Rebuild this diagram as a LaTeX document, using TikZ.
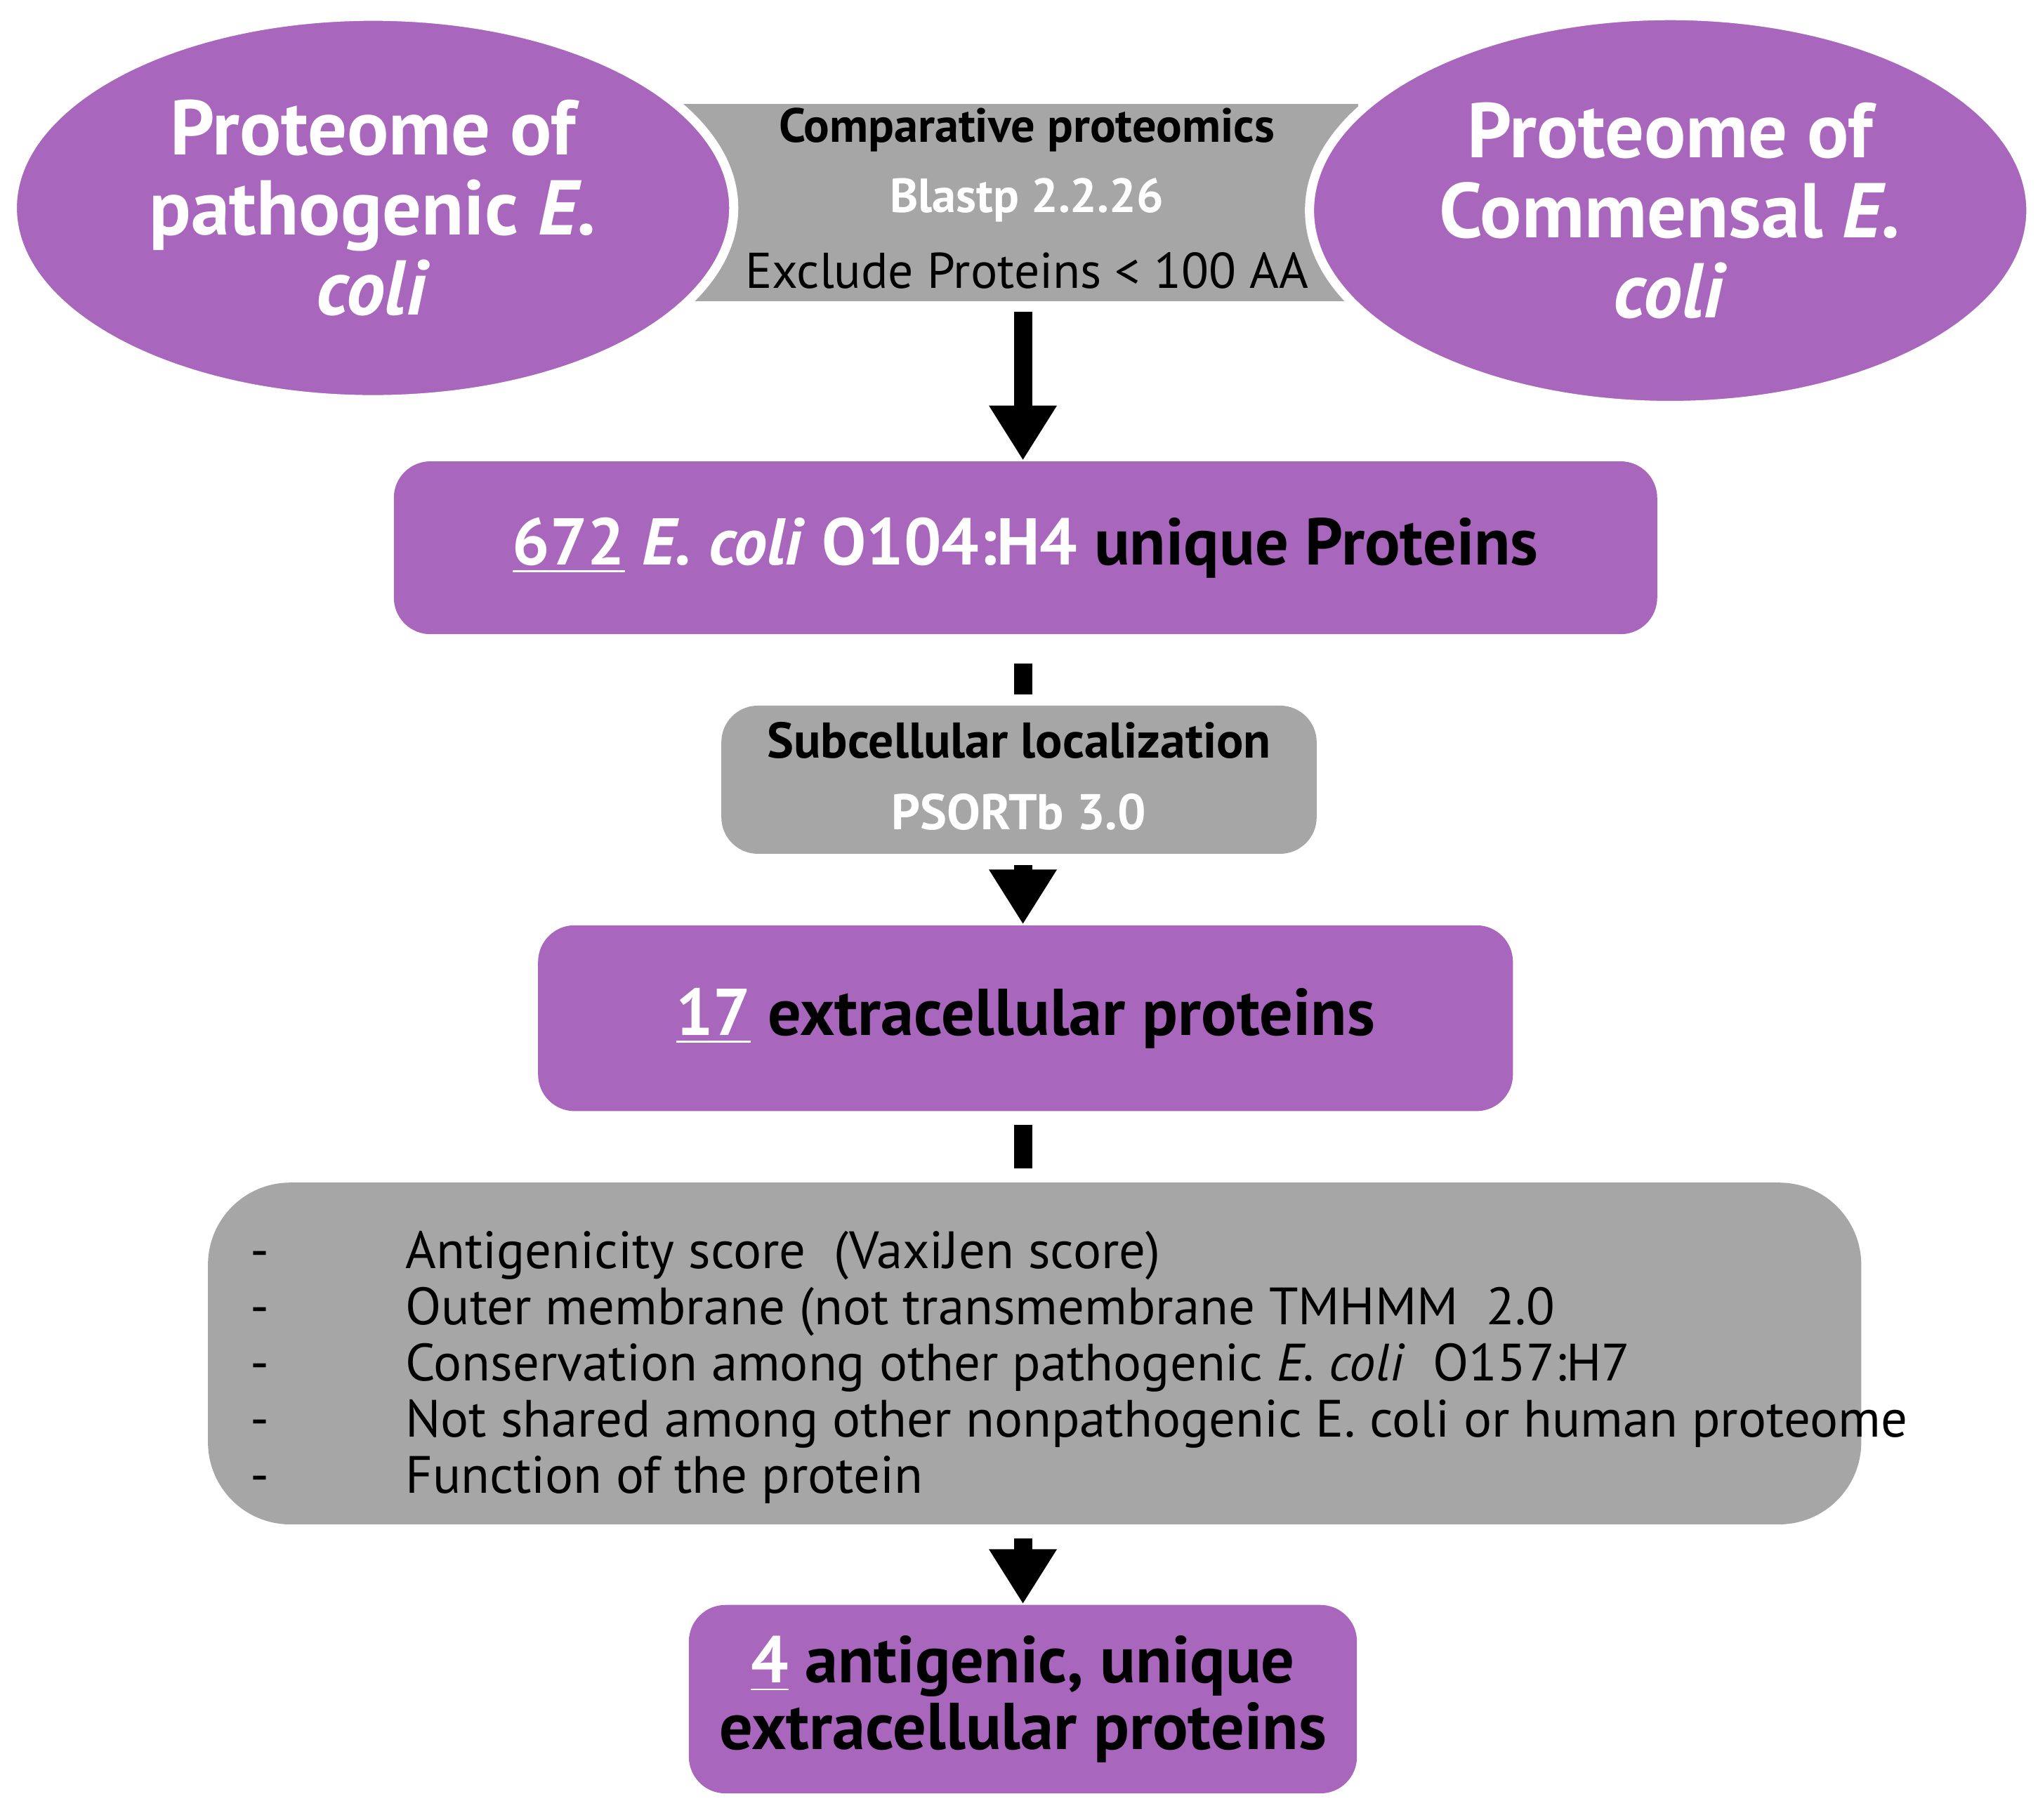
\documentclass[tikz,border=0pt]{standalone}
\usepackage{fontspec}
\setmainfont{PT Sans}
\usetikzlibrary{arrows.meta,positioning,shapes.geometric}
\definecolor{violet}{HTML}{A866BC}
\definecolor{greybox}{HTML}{A6A6A6}
\tikzset{
  pbox/.style={fill=violet,rounded corners=8pt,font=\bfseries\fontsize{14.5}{17}\selectfont},
  gbox/.style={fill=greybox,rounded corners=8pt,align=center},
  pell/.style={ellipse,fill=violet,draw=white,line width=2pt},
  flow/.style={line width=4pt,-{Triangle[width=14pt,length=12pt]}},
  gap/.style={line width=4pt}
}
\newcommand{\ul}[1]{\underline{\smash{#1}}}
\begin{document}
\begin{tikzpicture}
\useasboundingbox (0,0) rectangle (15.68,-14.0);
% comparative proteomics band
\fill[greybox] (5.25,-0.8) -- (10.45,-0.8) -- (10.45,-2.32) -- (5.25,-2.32) -- cycle;
\node[pell,minimum width=5.55cm,minimum height=2.95cm] (patho) at (2.87,-1.6) {};
\node[pell,minimum width=5.55cm,minimum height=3.0cm] (comm) at (12.85,-1.62) {};
\node[align=center,text=white,font=\bfseries\fontsize{17}{17.5}\selectfont] at (patho) {Proteome of\\pathogenic \textit{E.}\\\textit{coli}};
\node[align=center,text=white,font=\bfseries\fontsize{17}{17.5}\selectfont] at (comm) {Proteome of\\Commensal \textit{E.}\\\textit{coli}};
\node[font=\bfseries\fontsize{10.5}{12}\selectfont] at (7.9,-1.0) {Comparative proteomics};
\node[text=white,font=\bfseries\fontsize{10.5}{12}\selectfont] at (7.9,-1.54) {Blastp 2.2.26};
\node[font=\fontsize{11}{12}\selectfont] at (7.9,-2.08) {Exclude Proteins < 100 AA};
% main chain
\coordinate (a0) at (7.87,-2.4);
\node[pbox,minimum width=9.72cm,minimum height=1.33cm] (unique) at (7.89,-4.215)
  {\textcolor{white}{\ul{672} \textit{E. coli} O104:H4} unique Proteins};
\node[gbox,minimum width=4.58cm,minimum height=1.14cm] (psort) at (7.84,-6.0) {};
\node[font=\bfseries\fontsize{11}{12}\selectfont] at (7.84,-5.7) {Subcellular localization};
\node[text=white,font=\bfseries\fontsize{11}{12}\selectfont] at (7.84,-6.25) {PSORTb 3.0};
\node[pbox,minimum width=7.5cm,minimum height=1.43cm] (extra) at (7.89,-7.835)
  {\textcolor{white}{\ul{17}} extracellular proteins};
\node[gbox,rounded corners=18pt,minimum width=12.72cm,minimum height=2.63cm] (filter) at (7.96,-10.415) {};
\node[anchor=north west,align=left,font=\fontsize{11.5}{12.3}\selectfont] at (1.8,-9.35)
  {-\hspace{2.6em}Antigenicity score\ \ (VaxiJen score)\\
   -\hspace{2.6em}Outer membrane (not transmembrane TMHMM\ \ 2.0\\
   -\hspace{2.6em}Conservation among other pathogenic \textit{E. coli}\ \ O157:H7\\
   -\hspace{2.6em}Not shared among other nonpathogenic E. coli or human proteome\\
   -\hspace{2.6em}Function of the protein};
\node[pbox,align=center,minimum width=5.14cm,minimum height=1.45cm,font=\bfseries\fontsize{14.5}{14.5}\selectfont] (final) at (7.87,-13.075)
  {\textcolor{white}{\ul{4}} antigenic, unique\\extracellular proteins};
% connectors
\draw[flow] (a0) -- (unique.north -| a0);
\draw[gap] ([yshift=-0.22cm]unique.south -| a0) -- ([yshift=0.08cm]psort.north -| a0);
\draw[flow] ([yshift=-0.08cm]psort.south -| a0) -- (extra.north -| a0);
\draw[gap] ([yshift=-0.1cm]extra.south -| a0) -- ([yshift=0.1cm]filter.north -| a0);
\draw[flow] ([yshift=-0.1cm]filter.south -| a0) -- (final.north -| a0);
\end{tikzpicture}
\end{document}
